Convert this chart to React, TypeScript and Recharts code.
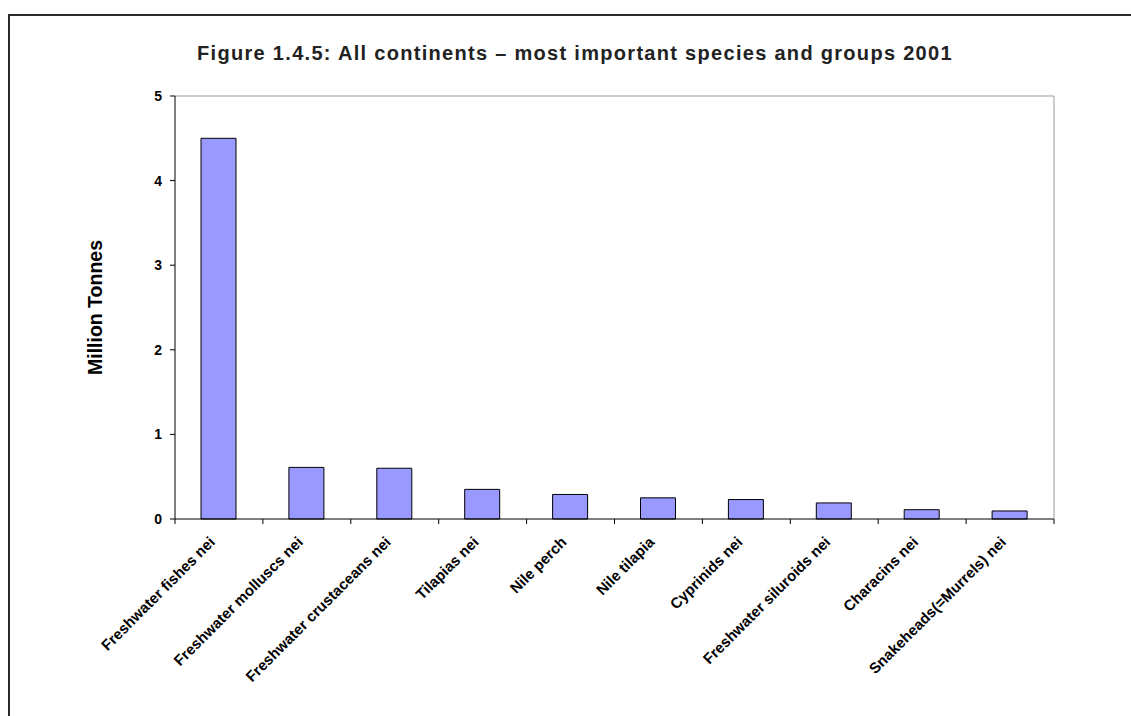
import { BarChart, Bar, XAxis, YAxis } from "recharts";

const species = [
  "Freshwater fishes nei",
  "Freshwater molluscs nei",
  "Freshwater crustaceans nei",
  "Tilapias nei",
  "Nile perch",
  "Nile tilapia",
  "Cyprinids nei",
  "Freshwater siluroids nei",
  "Characins nei",
  "Snakeheads(=Murrels) nei",
];
const tonnes = [4.5, 0.61, 0.6, 0.35, 0.29, 0.25, 0.23, 0.19, 0.11, 0.095];
const yTicks = [0, 1, 2, 3, 4, 5];

const data = species.map((name, i) => ({ name, value: tonnes[i] }));

const W = 1131;
const H = 716;
const margin = { top: 95, right: 76, bottom: 196, left: 0 };
const yAxisWidth = 175;
const band = (W - margin.left - margin.right - yAxisWidth - 1) / species.length;

const font = "'Liberation Sans', Arial, sans-serif";

// category ticks sit on the band edges, labels at the band centre
const CategoryTick = ({ x, y, payload, index }: any) => {
  const left = x - band / 2;
  const lx = x - 3;
  const ly = y + 24;
  return (
    <g>
      <line x1={left} y1={y} x2={left} y2={y + 5} stroke="#000" />
      {index === species.length - 1 && (
        <line x1={x + band / 2} y1={y} x2={x + band / 2} y2={y + 5} stroke="#000" />
      )}
      <text
        x={lx}
        y={ly}
        transform={`rotate(-45 ${lx} ${ly})`}
        textAnchor="end"
        fontFamily={font}
        fontWeight="bold"
        fontSize={15}
        fill="#000"
      >
        {payload.value}
      </text>
    </g>
  );
};

const ValueTick = ({ x, y, payload }: any) => (
  <text
    x={x}
    y={y}
    dy={5}
    textAnchor="end"
    fontFamily={font}
    fontWeight="bold"
    fontSize={14}
    fill="#000"
  >
    {payload.value}
  </text>
);

export default function App() {
  return (
    <div style={{ position: "fixed", left: 0, top: 0, width: W, height: H, overflow: "hidden", background: "#fff" }}>
      <div
        style={{
          position: "absolute",
          left: 8,
          top: 14,
          width: 1200,
          height: 800,
          border: "2px solid #2b2b2b",
        }}
      />
      <div
        style={{
          position: "absolute",
          left: 175,
          top: 43,
          width: 800,
          textAlign: "center",
          fontFamily: font,
          fontWeight: "bold",
          fontSize: 20,
          letterSpacing: 1.3,
          lineHeight: "20px",
          color: "#222",
          whiteSpace: "nowrap",
        }}
      >
        Figure 1.4.5: All continents – most important species and groups 2001
      </div>
      <div style={{ position: "absolute", left: 0, top: 0 }}>
        <BarChart width={W} height={H} data={data} margin={margin}>
          <XAxis
            dataKey="name"
            height={1}
            interval={0}
            axisLine={{ stroke: "#000" }}
            tickLine={false}
            tickSize={0}
            tickMargin={0}
            tick={<CategoryTick />}
          />
          <XAxis
            xAxisId="top"
            dataKey="name"
            orientation="top"
            height={1}
            tick={false}
            tickLine={false}
            axisLine={{ stroke: "#999" }}
          />
          <YAxis
            width={yAxisWidth}
            domain={[0, 5]}
            ticks={yTicks}
            interval={0}
            axisLine={{ stroke: "#000" }}
            tickLine={{ stroke: "#000" }}
            tickSize={5}
            tickMargin={8}
            tick={<ValueTick />}
            label={{
              value: "Million Tonnes",
              angle: -90,
              position: "insideLeft",
              offset: 95,
              style: { textAnchor: "middle", fontFamily: font, fontWeight: "bold", fontSize: 19.5, fill: "#000" },
            }}
          />
          <YAxis
            yAxisId="right"
            orientation="right"
            width={1}
            domain={[0, 5]}
            type="number"
            tick={false}
            tickLine={false}
            axisLine={{ stroke: "#999" }}
          />
          <Bar dataKey="value" fill="#9999FF" stroke="#000" strokeWidth={1} barSize={35} isAnimationActive={false} />
        </BarChart>
      </div>
    </div>
  );
}
